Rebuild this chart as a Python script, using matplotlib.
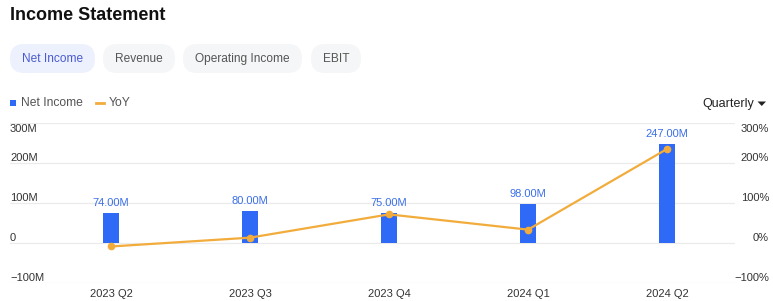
import numpy as np
import matplotlib.pyplot as plt
from matplotlib.patches import FancyBboxPatch

plt.rcParams['font.family'] = ['Liberation Sans', 'DejaVu Sans']

quarters = ['2023 Q2', '2023 Q3', '2023 Q4', '2024 Q1', '2024 Q2']
net_income = [74.0, 80.0, 75.0, 98.0, 247.0]  # millions
yoy = [-9, 13, 71, 33, 234]  # percent
left_ticks = [-100, 0, 100, 200, 300]
left_labels = ['\u2212100M', '0', '100M', '200M', '300M']
right_labels = ['\u2212100%', '0%', '100%', '200%', '300%']
tabs = ['Net Income', 'Revenue', 'Operating Income', 'EBIT']

W, H = 773, 301
fig = plt.figure(figsize=(W / 100, H / 100), dpi=100)

# background layer in pixel coords for header widgets
bg = fig.add_axes([0, 0, 1, 1])
bg.set_xlim(0, W)
bg.set_ylim(H, 0)
bg.axis('off')

bg.text(10, 16, 'Income Statement', fontsize=13, fontweight='bold',
        color='#111111', va='center', ha='left')

tab_x = [(10, 95), (103, 175), (183, 302), (311, 361)]
for i, (name, (x0, x1)) in enumerate(zip(tabs, tab_x)):
    active = i == 0
    box = FancyBboxPatch((x0, 44), x1 - x0, 29,
                         boxstyle='round,pad=0,rounding_size=14',
                         linewidth=0,
                         facecolor='#edf1fd' if active else '#f5f6f8')
    bg.add_patch(box)
    bg.text((x0 + x1) / 2, 59, name, fontsize=8.6, ha='center', va='center',
            color='#4a5bd0' if active else '#555555')

# legend
bg.add_patch(plt.Rectangle((10, 100), 5.5, 5.5, color='#2f6af6', linewidth=0))
bg.text(21, 103, 'Net Income', fontsize=8.7, va='center', color='#555555')
bg.plot([96, 104], [103, 103], color='#f2ac3c', lw=2)
bg.text(109, 103, 'YoY', fontsize=8.7, va='center', color='#555555')
bg.text(754, 104, 'Quarterly', fontsize=9, va='center', ha='right', color='#222222')
bg.fill([757.5, 766, 761.75], [101.5, 101.5, 106], color='#222222', lw=0)

# main chart area
ax_l, ax_r, ax_t, ax_b = 10, 735, 122.5, 283
ax = fig.add_axes([ax_l / W, (H - ax_b) / H, (ax_r - ax_l) / W, (ax_b - ax_t) / H])
x = np.arange(len(quarters))
ax.set_xlim((ax_l - 111) / 139, (ax_r - 111) / 139)
ax.set_ylim(-100, 300)
for t in left_ticks:
    ax.axhline(t, color='#ebebeb', lw=0.9, zorder=0)
for s in ax.spines.values():
    s.set_visible(False)
ax.set_yticks([])
ax.set_xticks(x)
ax.set_xticklabels(quarters, fontsize=8, color='#333333')
ax.tick_params(axis='x', length=0, pad=4)

bars = ax.bar(x, net_income, width=16 / 139, color='#2f6af6', zorder=2)
for xi, v in zip(x, net_income):
    ax.annotate(f'{v:.2f}M', (xi, v), xytext=(0, 7), textcoords='offset points',
                ha='center', va='center', fontsize=8, color='#3a6ee8')

# tick labels drawn as text near the grid lines
for t, lab in zip(left_ticks, left_labels):
    off = -5 if t == 300 else 3.6
    ax.annotate(lab, (ax.get_xlim()[0], t), xytext=(0, off), textcoords='offset points',
                ha='left', va='center', fontsize=8, color='#333333')

ax2 = ax.twinx()
ax2.set_ylim(-100, 300)
ax2.set_yticks([])
for s in ax2.spines.values():
    s.set_visible(False)
ax2.plot(x, yoy, color='#f2ac3c', lw=1.6, marker='o', markersize=4.5, zorder=3)
for t, lab in zip(left_ticks, right_labels):
    off = -5 if t == 300 else 3.6
    ax2.annotate(lab, (ax.get_xlim()[1], t), xytext=(24.5, off), textcoords='offset points',
                 ha='right', va='center', fontsize=8, color='#333333',
                 annotation_clip=False)

fig.savefig('out.png', dpi=100)
